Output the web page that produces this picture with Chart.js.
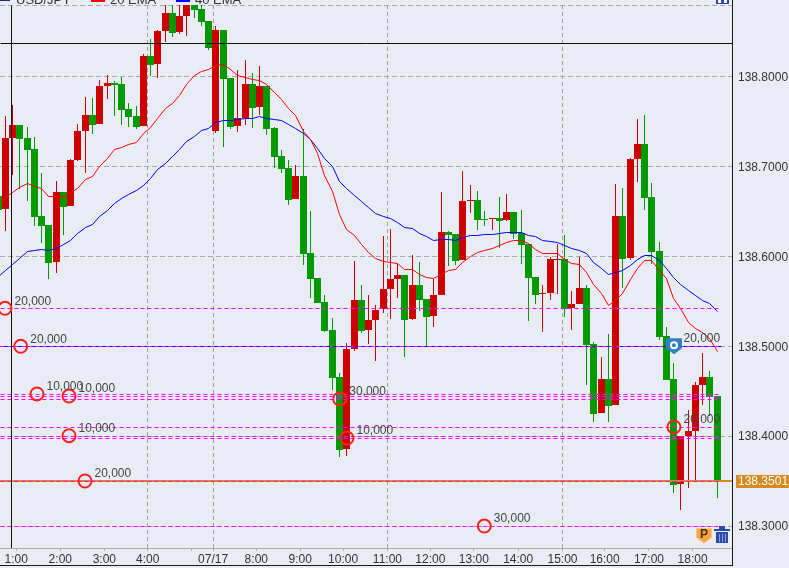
<!DOCTYPE html>
<html>
<head>
<meta charset="utf-8">
<title>USD/JPY</title>
<script src="https://cdn.jsdelivr.net/npm/chart.js@4"></script>
<style>
    html, body { margin: 0; padding: 0; background: #e9ecf4; overflow: hidden; }
    canvas { display: block; }
</style>
</head>
<body>
<canvas id="priceChart" width="789" height="568"></canvas>
<script>
// 10 minute candles
const opens = [
    138.6671, 138.6526, 138.7316, 138.7461, 138.7316, 138.7194, 138.6448, 138.6348, 138.5937, 138.6715,
    138.6560, 138.7071, 138.7394, 138.7572, 138.7472, 138.7894, 138.7928, 138.7917, 138.7639, 138.7561,
    138.7450, 138.8228, 138.8139, 138.8506, 138.8706, 138.8495, 138.8673, 138.8795, 138.8751, 138.8617,
    138.7394, 138.8517, 138.7983, 138.7450, 138.7538, 138.7917, 138.7661, 138.7894, 138.7427, 138.7116,
    138.6982, 138.6638, 138.6893, 138.6037, 138.5759, 138.5492, 138.5180, 138.4658, 138.3857, 138.4969,
    138.5514, 138.5180, 138.5292, 138.5414, 138.5636, 138.5748, 138.5792, 138.5303, 138.5681, 138.5525,
    138.5336, 138.5570, 138.6271, 138.6248, 138.5959, 138.6615, 138.6626, 138.6415, 138.6415, 138.6426,
    138.6404, 138.6493, 138.6259, 138.6137, 138.5770, 138.5581, 138.5592, 138.5959, 138.5970, 138.5425,
    138.5470, 138.5648, 138.5025, 138.4257, 138.4635, 138.4346, 138.6448, 138.5981, 138.7082, 138.7249,
    138.6660, 138.6059, 138.5114, 138.4635, 138.3467, 138.4001, 138.4057, 138.4569, 138.4658, 138.4446
];
const highs = [
    138.6793, 138.7561, 138.7683, 138.7461, 138.7438, 138.7327, 138.6927, 138.6348, 138.6838, 138.6715,
    138.7082, 138.7472, 138.7772, 138.7761, 138.7961, 138.8017, 138.7950, 138.7995, 138.7705, 138.7672,
    138.8250, 138.8417, 138.8517, 138.8795, 138.8818, 138.8795, 138.8818, 138.8818, 138.8795, 138.8617,
    138.8562, 138.8517, 138.7983, 138.8072, 138.8184, 138.8039, 138.8117, 138.7894, 138.7438, 138.7183,
    138.7071, 138.7016, 138.7416, 138.6504, 138.5759, 138.5570, 138.5314, 138.4702, 138.5036, 138.5948,
    138.5681, 138.5570, 138.5458, 138.6226, 138.6304, 138.5915, 138.5792, 138.6015, 138.5937, 138.5525,
    138.5748, 138.6715, 138.6282, 138.6248, 138.6949, 138.6793, 138.6727, 138.6504, 138.6426, 138.6660,
    138.6693, 138.6493, 138.6515, 138.6137, 138.5770, 138.5681, 138.5992, 138.6137, 138.6237, 138.5614,
    138.5992, 138.5681, 138.5047, 138.4880, 138.5136, 138.6804, 138.6760, 138.7094, 138.7527, 138.7572,
    138.6815, 138.6159, 138.5214, 138.4813, 138.4001, 138.4291, 138.4602, 138.4925, 138.4724, 138.4446
];
const lows = [
    138.6460, 138.6282, 138.6904, 138.6749, 138.6615, 138.6337, 138.6148, 138.5748, 138.5814, 138.6237,
    138.6560, 138.7060, 138.6927, 138.7361, 138.7472, 138.7750, 138.7561, 138.7461, 138.7438, 138.7416,
    138.7450, 138.8006, 138.7983, 138.8384, 138.8439, 138.8473, 138.8451, 138.8651, 138.8562, 138.8295,
    138.7372, 138.7216, 138.7416, 138.7383, 138.7461, 138.7427, 138.7572, 138.7349, 138.6982, 138.6927,
    138.6571, 138.6638, 138.5903, 138.5536, 138.5481, 138.5158, 138.4513, 138.3768, 138.3779, 138.4947,
    138.5147, 138.5025, 138.4836, 138.5370, 138.5303, 138.5536, 138.4880, 138.5292, 138.5392, 138.5002,
    138.5214, 138.5570, 138.5892, 138.5903, 138.5959, 138.6482, 138.6293, 138.6337, 138.6293, 138.6093,
    138.6393, 138.6193, 138.5915, 138.5281, 138.5470, 138.5158, 138.5514, 138.5581, 138.5325, 138.5180,
    138.5470, 138.4569, 138.4157, 138.4257, 138.4157, 138.4346, 138.5648, 138.5959, 138.6827, 138.6515,
    138.5915, 138.5069, 138.4624, 138.3367, 138.3178, 138.3423, 138.3490, 138.4346, 138.4224, 138.3312
];
const closes = [
    138.6515, 138.7316, 138.7461, 138.7305, 138.7183, 138.6437, 138.6337, 138.5926, 138.6715, 138.6549,
    138.7071, 138.7394, 138.7572, 138.7461, 138.7894, 138.7928, 138.7906, 138.7627, 138.7550, 138.7438,
    138.8228, 138.8128, 138.8506, 138.8706, 138.8484, 138.8673, 138.8795, 138.8740, 138.8606, 138.8317,
    138.8517, 138.7972, 138.7438, 138.7538, 138.7917, 138.7650, 138.7894, 138.7416, 138.7105, 138.6971,
    138.6626, 138.6893, 138.6026, 138.5748, 138.5481, 138.5169, 138.4647, 138.3846, 138.4969, 138.5514,
    138.5169, 138.5292, 138.5403, 138.5636, 138.5748, 138.5792, 138.5292, 138.5681, 138.5514, 138.5325,
    138.5570, 138.6271, 138.6237, 138.5948, 138.6615, 138.6626, 138.6404, 138.6404, 138.6426, 138.6393,
    138.6493, 138.6248, 138.6126, 138.5759, 138.5570, 138.5592, 138.5970, 138.5970, 138.5414, 138.5470,
    138.5648, 138.5014, 138.4246, 138.4635, 138.4335, 138.6448, 138.5970, 138.7082, 138.7249, 138.6649,
    138.6048, 138.5103, 138.4624, 138.3456, 138.4001, 138.4057, 138.4569, 138.4658, 138.4435, 138.3501
];

const ema20 = [
    138.6590, 138.6656, 138.6712, 138.6763, 138.6812, 138.6782, 138.6752, 138.6668, 138.6663, 138.6656,
    138.6708, 138.6752, 138.6849, 138.6893, 138.6997, 138.7090, 138.7183, 138.7213, 138.7241, 138.7264,
    138.7361, 138.7435, 138.7535, 138.7646, 138.7702, 138.7794, 138.7906, 138.8006, 138.8053, 138.8080,
    138.8117, 138.8128, 138.8080, 138.8013, 138.7991, 138.7972, 138.7953, 138.7906, 138.7824, 138.7746,
    138.7646, 138.7561, 138.7386, 138.7294, 138.7146, 138.6904, 138.6719, 138.6460, 138.6293, 138.6226,
    138.6126, 138.6040, 138.5978, 138.5945, 138.5933, 138.5915, 138.5856, 138.5848, 138.5803, 138.5767,
    138.5748, 138.5803, 138.5840, 138.5856, 138.5929, 138.5996, 138.6045, 138.6070, 138.6089, 138.6115,
    138.6151, 138.6178, 138.6178, 138.6137, 138.6078, 138.6034, 138.6034, 138.6026, 138.5967, 138.5922,
    138.5911, 138.5818, 138.5681, 138.5589, 138.5458, 138.5514, 138.5581, 138.5737, 138.5867, 138.5951,
    138.5951, 138.5840, 138.5755, 138.5533, 138.5422, 138.5262, 138.5199, 138.5150, 138.5088, 138.4939
];
const ema40 = [
    138.5773, 138.5840, 138.5911, 138.5978, 138.6051, 138.6070, 138.6078, 138.6070, 138.6089, 138.6126,
    138.6181, 138.6256, 138.6318, 138.6359, 138.6441, 138.6515, 138.6590, 138.6638, 138.6682, 138.6730,
    138.6793, 138.6868, 138.6960, 138.7035, 138.7108, 138.7190, 138.7275, 138.7338, 138.7397, 138.7424,
    138.7486, 138.7516, 138.7516, 138.7524, 138.7535, 138.7538, 138.7553, 138.7538, 138.7524, 138.7505,
    138.7461, 138.7424, 138.7361, 138.7294, 138.7201, 138.7090, 138.6997, 138.6830, 138.6749, 138.6671,
    138.6608, 138.6541, 138.6478, 138.6441, 138.6415, 138.6374, 138.6318, 138.6304, 138.6256, 138.6218,
    138.6181, 138.6189, 138.6189, 138.6181, 138.6212, 138.6226, 138.6237, 138.6243, 138.6241, 138.6256,
    138.6267, 138.6267, 138.6263, 138.6234, 138.6215, 138.6178, 138.6167, 138.6151, 138.6123, 138.6089,
    138.6070, 138.6034, 138.5929, 138.5867, 138.5803, 138.5818, 138.5837, 138.5896, 138.5967, 138.6004,
    138.6004, 138.5959, 138.5867, 138.5767, 138.5681, 138.5618, 138.5559, 138.5514, 138.5477, 138.5381
];

// order levels (magenta dashed), the blue one and the current price
const orderLevels = [138.5422, 138.4999, 138.4465, 138.4439, 138.4410, 138.4098, 138.3998, 138.3976, 138.3493, 138.3000];
const positionLevel = 138.4999;
const currentPrice = 138.3501;
const levelEndIndex = 99.6;

// order markers (circles) with their amounts
const markerIndex = [0.96, 3.12, 5.36, 9.77, 9.77, 11.97, 47.03, 48.03, 66.93, 93.04];
const markerPrice = [138.5422, 138.4999, 138.4469, 138.4446, 138.4005, 138.3501, 138.4413, 138.3979, 138.3000, 138.4102];
const markerAmount = ['20,000', '20,000', '10,000', '10,000', '10,000', '20,000', '30,000', '10,000', '30,000', '20,000'];

const pinIndex = [93.04];
const pinPrice = [138.5010];
const pinAmount = ['20,000'];

// crosshair
const crossIndex = 1.85;
const crossPrice = 138.8367;

// axes
const priceTicks = [138.3, 138.4, 138.5, 138.6, 138.7, 138.8];
const timeTicks = [2.51, 8.57, 14.63, 20.6, 26.6, 29.6, 35.55, 41.6, 47.5, 53.6, 59.5, 65.5, 71.6, 77.7, 83.5, 89.6, 95.6];
const timeLabels = ['1:00', '2:00', '3:00', '4:00', '', '07/17', '8:00', '9:00', '10:00', '11:00', '12:00', '13:00', '14:00', '15:00', '16:00', '17:00', '18:00'];
const timeGrid = ['4:00', '07/17', '11:00', '15:00'];

const xMin = 0.27;
const xMax = 101.03;
const yMin = 138.2756;
const yMax = 138.8795;

const RED = '#cc0000';
const GREEN = '#009900';
const FONT = '12px "Liberation Sans", Arial, sans-serif';

function hLine(price, color, dash, order, end) {
    return {
        type: 'line',
        data: [{ x: xMin, y: price }, { x: end, y: price }],
        borderColor: color,
        borderWidth: 1,
        borderDash: dash,
        pointRadius: 0,
        order: order,
        crisp: true
    };
}

function emaLine(values, color) {
    return {
        type: 'line',
        data: values.map(function(v, i) { return { x: i, y: v }; }),
        borderColor: color,
        borderWidth: 1,
        pointRadius: 0,
        tension: 0,
        order: 6,
        crisp: true
    };
}

const candleColors = closes.map(function(c, i) { return c >= opens[i] ? RED : GREEN; });

// the current price line is 2px
const currentLine = hLine(currentPrice, '#d98a1c', [], 5, xMax);
currentLine.borderWidth = 2;
currentLine.crisp = false;
currentLine.wide = true;

const datasets = [
    {
        type: 'bar',
        data: lows.map(function(v, i) { return { x: i, y: [v, highs[i]] }; }),
        backgroundColor: candleColors,
        maxBarThickness: 1,
        order: 10,
        candle: true
    },
    {
        type: 'bar',
        data: opens.map(function(v, i) { return { x: i, y: [v, closes[i]] }; }),
        backgroundColor: candleColors,
        maxBarThickness: 7,
        order: 9,
        candle: true
    },
    emaLine(ema20, '#ff0000'),
    emaLine(ema40, '#0000ff'),
    hLine(positionLevel, '#0000ff', [], 5, levelEndIndex),
    currentLine
];

orderLevels.forEach(function(price) {
    datasets.push(hLine(price, '#ff00ff', [4, 3], 4, levelEndIndex));
});

datasets.push(hLine(crossPrice, '#111111', [], 3, xMax));
datasets.push({
    type: 'line',
    data: [{ x: crossIndex, y: yMin }, { x: crossIndex, y: yMax }],
    borderColor: '#111111',
    borderWidth: 1,
    pointRadius: 0,
    order: 3,
    crisp: true
});
datasets.push({
    type: 'scatter',
    data: markerIndex.map(function(v, i) { return { x: v, y: markerPrice[i] }; }),
    pointRadius: 6.5,
    pointBorderWidth: 2,
    pointBorderColor: '#ff2020',
    pointBackgroundColor: 'rgba(0, 0, 0, 0)',
    order: 1,
    clip: false,
    labelsFrom: markerAmount
});
datasets.push({
    type: 'scatter',
    data: pinIndex.map(function(v, i) { return { x: v, y: pinPrice[i] }; }),
    pointRadius: 0,
    order: 1,
    labelsFrom: pinAmount,
    pin: true
});

// y labels push the plot down by themselves, put its top back at 5px
const plotTopPlugin = {
    id: 'plotTop',
    afterLayout: function(chart) {
        const y = chart.scales.y;
        const area = chart.chartArea;
        y.top = 5;
        y.height = y.bottom - y.top;
        y.configure();
        area.top = 5;
        area.height = area.bottom - area.top;
    }
};

// canvas lines on whole pixels, the reference has no blur
const snapPlugin = {
    id: 'snap',
    afterDatasetsUpdate: function(chart) {
        chart.data.datasets.forEach(function(ds, k) {
            const els = chart.getDatasetMeta(k).data;
            if (ds.candle) {
                els.forEach(function(el) {
                    el.x = Math.floor(el.x) + 0.5;
                    el.y = Math.round(el.y);
                    el.base = Math.round(el.base);
                    if (el.y === el.base) {
                        el.base = el.y + 1;
                    }
                });
            } else if (ds.crisp) {
                els.forEach(function(el) {
                    el.x = Math.floor(el.x) + 0.5;
                    el.y = Math.floor(el.y) + 0.5;
                });
            } else if (ds.wide) {
                els.forEach(function(el) {
                    el.y = Math.round(el.y);
                });
            }
        });
    }
};

function drawPin(ctx, x, y) {
    ctx.fillStyle = '#2f80c4';
    ctx.beginPath();
    ctx.moveTo(x - 8, y - 7);
    ctx.lineTo(x + 8, y - 7);
    ctx.lineTo(x + 8, y + 3);
    ctx.lineTo(x, y + 9);
    ctx.lineTo(x - 8, y + 3);
    ctx.closePath();
    ctx.fill();
    ctx.strokeStyle = '#ffffff';
    ctx.lineWidth = 2;
    ctx.beginPath();
    ctx.arc(x, y, 3, 0, Math.PI * 2);
    ctx.stroke();
}

function drawPositionIcon(ctx) {
    ctx.fillStyle = '#f5a742';
    ctx.strokeStyle = '#f8c27c';
    ctx.lineWidth = 1;
    ctx.beginPath();
    ctx.moveTo(696.5, 528.5);
    ctx.lineTo(711.5, 528.5);
    ctx.lineTo(711.5, 537.5);
    ctx.lineTo(704, 543);
    ctx.lineTo(696.5, 537.5);
    ctx.closePath();
    ctx.fill();
    ctx.stroke();
    ctx.fillStyle = '#4a3010';
    ctx.font = 'bold 12px "Liberation Sans", Arial, sans-serif';
    ctx.textAlign = 'center';
    ctx.textBaseline = 'middle';
    ctx.fillText('P', 704, 534.5);
}

function drawTrashIcon(ctx) {
    ctx.fillStyle = '#2d4aa8';
    ctx.fillRect(714, 529, 16, 2);
    ctx.fillRect(719, 526, 6, 3);
    ctx.fillRect(716, 532, 12, 11);
    ctx.fillStyle = '#8fa4dc';
    ctx.fillRect(719, 534, 1, 8);
    ctx.fillRect(722, 534, 1, 8);
    ctx.fillRect(725, 534, 1, 8);
}

const overlayPlugin = {
    id: 'overlay',
    beforeDraw: function(chart) {
        const ctx = chart.ctx;
        ctx.save();
        ctx.fillStyle = '#e9ecf4';
        ctx.fillRect(0, 0, chart.width, chart.height);
        ctx.restore();
    },
    afterDraw: function(chart) {
        const ctx = chart.ctx;
        const yScale = chart.scales.y;
        ctx.save();

        // amounts next to the markers
        chart.data.datasets.forEach(function(ds, k) {
            if (!ds.labelsFrom) {
                return;
            }
            chart.getDatasetMeta(k).data.forEach(function(el, i) {
                if (ds.pin) {
                    drawPin(ctx, el.x, el.y);
                }
                ctx.font = FONT;
                ctx.fillStyle = '#444444';
                ctx.textAlign = 'left';
                ctx.textBaseline = 'middle';
                ctx.fillText(ds.labelsFrom[i], el.x + 9.5, el.y - 7);
            });
        });

        drawPositionIcon(ctx);
        drawTrashIcon(ctx);

        // top legend, cut by the window edge
        ctx.font = '13px "Liberation Sans", Arial, sans-serif';
        ctx.fillStyle = '#333333';
        ctx.textAlign = 'left';
        ctx.textBaseline = 'alphabetic';
        ctx.fillText('USD/JPY', 16, 3.5);
        ctx.fillText('20 EMA', 110, 3.5);
        ctx.fillText('40 EMA', 195, 3.5);
        ctx.fillStyle = '#1a2f80';
        ctx.fillRect(0, 0, 10, 1);
        ctx.fillStyle = '#ff0000';
        ctx.fillRect(91, 0, 14, 2);
        ctx.fillStyle = '#0000ff';
        ctx.fillRect(176, 0, 14, 2);

        // corner icon at the top right
        ctx.fillStyle = '#2d4aa8';
        ctx.fillRect(716, 0, 13, 4);
        ctx.fillStyle = '#ffffff';
        ctx.fillRect(718, 0, 3, 3);
        ctx.fillRect(724, 0, 3, 3);

        // frame
        ctx.fillStyle = '#1a1a1a';
        ctx.fillRect(732, 0, 1, 566);
        ctx.fillRect(0, 565, 733, 1);

        // current price tag
        const tagY = Math.round(yScale.getPixelForValue(currentPrice));
        ctx.fillStyle = '#d68a20';
        ctx.fillRect(736, tagY - 6, 53, 13);
        ctx.font = FONT;
        ctx.fillStyle = '#ffffff';
        ctx.textAlign = 'left';
        ctx.textBaseline = 'middle';
        ctx.fillText(currentPrice.toFixed(4), 738, tagY + 0.5);
        ctx.restore();
    }
};

document.addEventListener('DOMContentLoaded', function() {
    new Chart(document.getElementById('priceChart'), {
        data: { datasets: datasets },
        plugins: [plotTopPlugin, snapPlugin, overlayPlugin],
        options: {
            responsive: false,
            animation: false,
            events: [],
            layout: { autoPadding: false },
            datasets: {
                bar: {
                    grouped: false,
                    barPercentage: 1,
                    categoryPercentage: 1,
                    inflateAmount: 0,
                    borderWidth: 0
                }
            },
            plugins: {
                legend: { display: false },
                tooltip: { enabled: false }
            },
            scales: {
                x: {
                    type: 'linear',
                    offset: false,
                    min: xMin,
                    max: xMax,
                    afterBuildTicks: function(scale) {
                        scale.ticks = timeTicks.map(function(v) { return { value: v }; });
                    },
                    afterFit: function(scale) {
                        scale.height = 20;
                    },
                    ticks: {
                        autoSkip: false,
                        maxRotation: 0,
                        padding: 1,
                        color: '#333333',
                        font: { family: '"Liberation Sans", Arial, sans-serif', size: 12 },
                        callback: function(value, i) {
                            return timeLabels[i];
                        }
                    },
                    grid: {
                        offset: false,
                        tickLength: 3,
                        tickColor: '#aaaaaa',
                        color: function(context) {
                            const at = timeTicks.indexOf(context.tick ? context.tick.value : -1);
                            return timeGrid.indexOf(timeLabels[at]) >= 0 ? '#a0a0a0' : 'rgba(0, 0, 0, 0)';
                        }
                    },
                    border: { color: '#aaaaaa', dash: [4, 3] }
                },
                y: {
                    position: 'right',
                    min: yMin,
                    max: yMax,
                    afterBuildTicks: function(scale) {
                        scale.ticks = priceTicks.concat([yMax]).map(function(v) { return { value: v }; });
                    },
                    afterFit: function(scale) {
                        scale.width = 57;
                    },
                    ticks: {
                        autoSkip: false,
                        padding: 6,
                        labelOffset: 1,
                        color: '#333333',
                        font: { family: '"Liberation Sans", Arial, sans-serif', size: 12 },
                        callback: function(value) {
                            return priceTicks.indexOf(value) >= 0 ? value.toFixed(4) : '';
                        }
                    },
                    grid: {
                        drawTicks: false,
                        color: '#aaaaaa'
                    },
                    border: { color: '#1a1a1a', dash: [5, 3] }
                }
            }
        }
    });
});
</script>
</body>
</html>
